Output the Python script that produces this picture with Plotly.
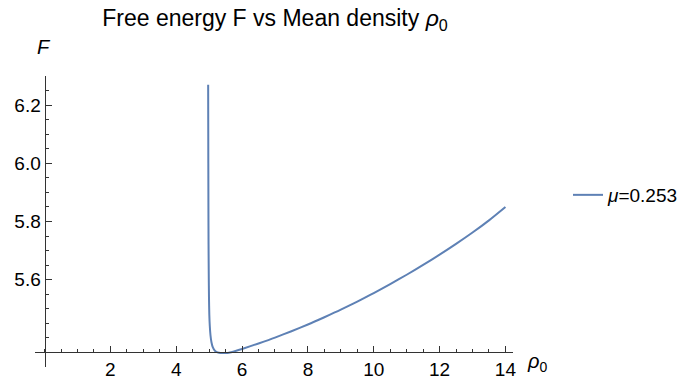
import plotly.graph_objects as go

# Data
rho0 = [4.97, 4.972, 4.975, 4.978, 4.982, 4.988, 4.995, 5.005, 5.02, 5.04, 5.07, 5.11,
        5.16, 5.22, 5.3, 5.4, 5.5, 5.6, 5.8, 6.0, 6.5, 7.0, 7.5, 8.0, 8.5, 9.0, 9.5,
        10.0, 10.5, 11.0, 11.5, 12.0, 12.5, 13.0, 13.5, 14.0]
F = [6.27, 6.15, 6.0, 5.85, 5.72, 5.62, 5.54, 5.48, 5.44, 5.41, 5.385, 5.368,
     5.358, 5.352, 5.349, 5.348, 5.348, 5.349, 5.355, 5.362, 5.381, 5.401, 5.423, 5.446, 5.471, 5.497, 5.525,
     5.554, 5.585, 5.617, 5.651, 5.686, 5.723, 5.762, 5.804, 5.85]
series_name = "<i>μ</i>=0.253"
x_ticks = [2, 4, 6, 8, 10, 12, 14]
y_ticks = [5.6, 5.8, 6.0, 6.2]

x_range = [-0.29, 14.23]
y_range = [5.30, 6.30]
x_origin_y = 5.35
y_origin_x = 0.0

font = "Liberation Sans, Arial, sans-serif"
color = "#5E81B5"
axcol = "#333333"

fig = go.Figure()
fig.add_trace(go.Scatter(x=rho0, y=F, mode="lines", name=series_name,
                         line=dict(color=color, width=2, shape="spline", smoothing=0.6)))

fig.update_layout(
    width=683, height=379,
    margin=dict(l=35, r=170, t=76, b=12, autoexpand=False),
    plot_bgcolor="white", paper_bgcolor="white",
    font=dict(family=font, size=19, color="black"),
    showlegend=True,
    legend=dict(x=(568 - 35) / 478, y=(367 - 195) / 291, xanchor="left", yanchor="middle",
                font=dict(size=19, color="black"), bgcolor="rgba(0,0,0,0)"),
    title=dict(text="Free energy F vs Mean density <i>ρ</i><sub>0</sub>",
               x=275 / 683, xanchor="center", y=1 - 18 / 379, yanchor="middle",
               xref="container", yref="container",
               font=dict(family=font, size=23, color="black")),
)
fig.update_xaxes(
    range=x_range, showgrid=False, zeroline=False, automargin=False,
    showline=True, linecolor=axcol, linewidth=1,
    anchor="free", position=(x_origin_y - y_range[0]) / (y_range[1] - y_range[0]),
    tickmode="array", tickvals=x_ticks, ticktext=[str(v) for v in x_ticks],
    ticks="inside", ticklen=6, tickcolor=axcol,
    minor=dict(ticks="inside", dtick=0.5, tick0=0, ticklen=3, tickcolor=axcol, showgrid=False),
    tickfont=dict(size=19, color="black"),
)
fig.update_yaxes(
    range=y_range, showgrid=False, zeroline=False, automargin=False,
    showline=True, linecolor=axcol, linewidth=1,
    anchor="free", position=(y_origin_x - x_range[0]) / (x_range[1] - x_range[0]),
    tickmode="array", tickvals=y_ticks, ticktext=["%.1f" % v for v in y_ticks],
    ticks="inside", ticklen=6, tickcolor=axcol,
    minor=dict(ticks="inside", dtick=0.05, tick0=5.3, ticklen=3, tickcolor=axcol, showgrid=False),
    tickfont=dict(size=19, color="black"),
)
fig.add_annotation(text="<i>F</i>", x=(44 - 35) / 478, y=(367 - 47) / 291, xref="paper", yref="paper",
                   showarrow=False, font=dict(size=20, color="black"), xanchor="center", yanchor="middle")
fig.add_annotation(text="<i>ρ</i><sub>0</sub>", x=(525 - 35) / 478, y=(367 - 362) / 291,
                   xref="paper", yref="paper", showarrow=False, xanchor="left", yanchor="middle",
                   font=dict(size=20, color="black"))

fig.write_html("out.html")
